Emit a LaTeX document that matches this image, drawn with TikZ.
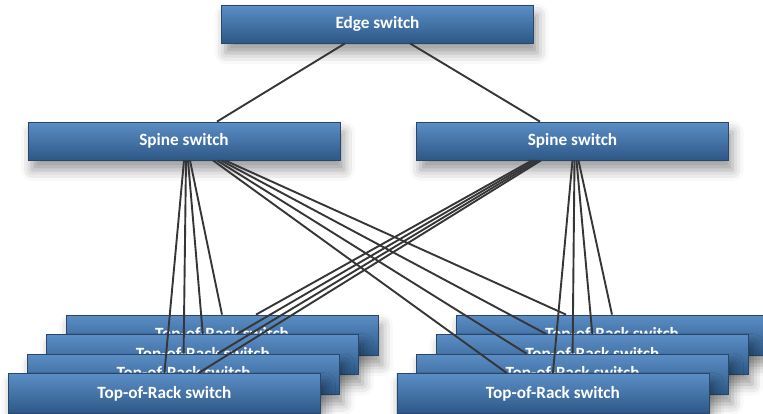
\documentclass[tikz,border=0pt]{standalone}
\usepackage{fontspec}
\setmainfont{Carlito}
\usetikzlibrary{shadows.blur}
\definecolor{swtop}{HTML}{5B8EC6}
\definecolor{swbot}{HTML}{2D5886}
\definecolor{swline}{HTML}{2A4668}
\definecolor{cablegray}{HTML}{363636}

\begin{document}
\begin{tikzpicture}[x=1pt, y=-1pt,
      switch/.style={draw=swline, line width=0.8pt, top color=swtop, bottom color=swbot,
        minimum width=312pt, minimum height=38pt, inner sep=0pt, text=white,
        font=\fontsize{17.2}{19}\selectfont\bfseries,
        blur shadow={shadow xshift=4pt, shadow yshift=-10pt, shadow blur radius=11pt, shadow opacity=40}},
      tor/.style={switch, minimum height=40pt},
      cable/.style={draw=cablegray, line width=1.9pt}
    ]
    \useasboundingbox (0,0) rectangle (763,413);
    \node[switch] (edge)   at (377.5,24) {Edge switch};
    \node[switch] (spineL) at (184,141)  {Spine switch};
    \node[switch] (spineR) at (572.5,141) {Spine switch};
    \foreach \i in {1,...,4} {
      \node[tor] (torL\i) at ({222-19.2*(\i-1)},{335+19.5*(\i-1)}) {Top-of-Rack switch};
      \node[tor] (torR\i) at ({612-19.7*(\i-1)},{335+19.5*(\i-1)}) {Top-of-Rack switch};
    }
    \draw[cable] ([xshift=-32.5pt]edge.south) -- ([xshift=33pt]spineL.north);
    \draw[cable] ([xshift=32.5pt]edge.south)  -- ([xshift=-32.5pt]spineR.north);
    \foreach \i in {1,...,4} {
      \draw[cable] ([xshift=(8-2*\i)*1pt]spineL.south)    -- (torL\i.north);
      \draw[cable] ([xshift=(45-4*\i)*1pt]spineL.south)   -- ([xshift=-46pt]torR\i.north);
      \draw[cable] ([xshift=(-43.5+3*\i)*1pt]spineR.south) -- ([xshift=34pt]torL\i.north);
      \draw[cable] ([xshift=(8-2*\i)*1pt]spineR.south)    -- (torR\i.north);
    }
  \end{tikzpicture}
\end{document}
